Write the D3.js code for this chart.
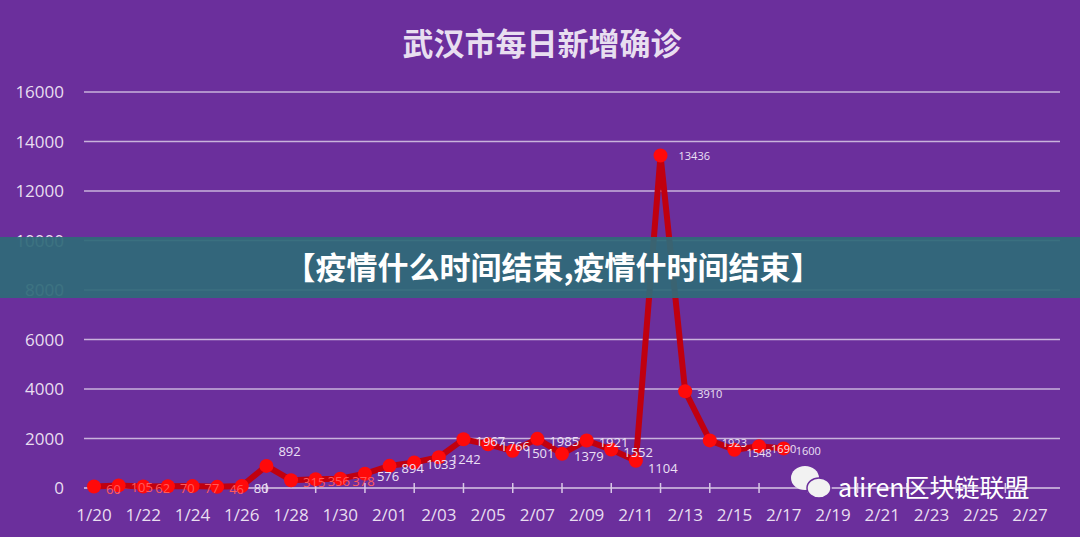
<!DOCTYPE html><html><head><meta charset="utf-8"><script src="https://cdn.jsdelivr.net/npm/d3@7"></script>
<style>body{margin:0;background:#6a2c9a}</style></head><body><svg width="1080" height="537"></svg><script>
const dates=["1/20","1/21","1/22","1/23","1/24","1/25","1/26","1/27","1/28","1/29","1/30","1/31","2/01","2/02","2/03","2/04","2/05","2/06","2/07","2/08","2/09","2/10","2/11","2/12","2/13","2/14","2/15","2/16","2/17"];
const values=[60,105,62,70,77,46,80,892,315,356,378,576,894,1033,1242,1967,1766,1501,1985,1379,1921,1552,1104,13436,3910,1923,1548,1690,1600];
const tickLabels=["1/20","1/22","1/24","1/26","1/28","1/30","2/01","2/03","2/05","2/07","2/09","2/11","2/13","2/15","2/17","2/19","2/21","2/23","2/25","2/27"];
const yTicks=[0,2000,4000,6000,8000,10000,12000,14000,16000];
const svg=d3.select("svg");
svg.append("rect").attr("width",1080).attr("height",537).attr("fill","#6b2f9c");
const x=d3.scaleLinear().domain([0,38]).range([94,1030]);
const y=d3.scaleLinear().domain([0,16000]).range([488,92]);
svg.append("text").attr("x",542).attr("y",55).attr("text-anchor","middle").attr("fill","#e8def0").attr("font-size",31).attr("font-weight","bold").attr("font-family","Noto Sans CJK SC").text("武汉市每日新增确诊");
yTicks.forEach(t=>{
 if(t>0)svg.append("line").attr("x1",84).attr("x2",1060).attr("y1",y(t)).attr("y2",y(t)).attr("stroke","#c9b3dc").attr("stroke-width",1.5);
 svg.append("text").attr("x",64).attr("y",y(t)+6).attr("text-anchor","end").attr("fill","#e8def0").attr("font-size",17).attr("font-family","Open Sans").text(t);
});
svg.append("line").attr("x1",84).attr("x2",1060).attr("y1",488).attr("y2",488).attr("stroke","#d8c8e6").attr("stroke-width",1.5);
for(let i=0;i<20;i++){const xx=x(i*2-1);if(xx>84)svg.append("line").attr("x1",xx).attr("x2",xx).attr("y1",483).attr("y2",493).attr("stroke","#d8c8e6").attr("stroke-width",1.5);}
tickLabels.forEach((l,i)=>svg.append("text").attr("x",x(i*2)).attr("y",521).attr("text-anchor","middle").attr("fill","#e8def0").attr("font-size",17).attr("font-family","Open Sans").text(l));
const line=d3.line().x((d,i)=>x(i)).y(d=>y(d));
svg.append("path").datum(values).attr("d",line).attr("fill","none").attr("stroke","#c0000f").attr("stroke-width",6).attr("stroke-linejoin","round");
svg.selectAll("circle").data(values).join("circle").attr("cx",(d,i)=>x(i)).attr("cy",d=>y(d)).attr("r",7).attr("fill","#ff0a0a");
svg.selectAll("text.lb").data(values).join("text").attr("class","lb").attr("x",(d,i)=>x(i)+(i==23?18:12)).attr("y",(d,i)=>y(d)+(i==7?-10:i==23?5:i==22?12:7)).attr("fill",(d,i)=>i<6||(i>=8&&i<11)?"#ff5a5a":"#ece0f5").attr("font-size",(d,i)=>i>=23?11:13).attr("font-family","Open Sans").text(d=>d);
svg.append("rect").attr("x",0).attr("y",237).attr("width",1080).attr("height",61).attr("fill","#2f6a78").attr("opacity",0.93);
svg.append("text").attr("x",553).attr("y",279).attr("text-anchor","middle").attr("fill","#ffffff").attr("font-size",31).attr("font-weight","bold").attr("font-family","Noto Sans CJK SC").text("【疫情什么时间结束,疫情什时间结束】");
const w=svg.append("g").attr("transform","translate(790,466)");
w.append("ellipse").attr("cx",15).attr("cy",12).attr("rx",14).attr("ry",12).attr("fill","#f2f2f2");
w.append("ellipse").attr("cx",29).attr("cy",22).attr("rx",12).attr("ry",10).attr("fill","#f2f2f2").attr("stroke","#6b2f9c").attr("stroke-width",1.5);
svg.append("text").attr("x",838).attr("y",497).attr("fill","#ffffff").attr("font-size",25).attr("font-family","Noto Sans CJK SC").text("aliren区块链联盟");
</script></body></html>
